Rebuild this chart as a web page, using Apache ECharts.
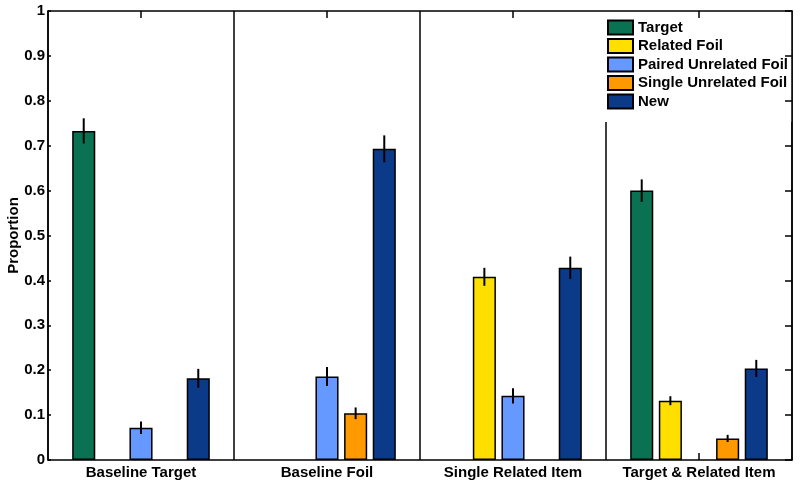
<!DOCTYPE html>
<html>
<head>
<meta charset="utf-8">
<script src="https://cdn.jsdelivr.net/npm/echarts@6/dist/echarts.min.js"></script>
<style>
html,body{margin:0;padding:0;background:#fff;}
#chart{width:800px;height:487px;}
</style>
</head>
<body>
<div id="chart"></div>
<script>
const categories = ['Baseline Target', 'Baseline Foil', 'Single Related Item', 'Target & Related Item'];
const seriesNames = ['Target', 'Related Foil', 'Paired Unrelated Foil', 'Single Unrelated Foil', 'New'];
const target = [0.733, null, null, 0.600];
const targetErr = [0.028, null, null, 0.025];
const relatedFoil = [null, null, 0.408, 0.132];
const relatedFoilErr = [null, null, 0.020, 0.010];
const pairedUnrelated = [0.072, 0.186, 0.143, null];
const pairedUnrelatedErr = [0.014, 0.021, 0.017, null];
const singleUnrelated = [null, 0.104, null, 0.048];
const singleUnrelatedErr = [null, 0.013, null, 0.008];
const newItems = [0.182, 0.693, 0.428, 0.204];
const newErr = [0.021, 0.030, 0.025, 0.019];
const yTicks = [0, 0.1, 0.2, 0.3, 0.4, 0.5, 0.6, 0.7, 0.8, 0.9, 1];

const colors = ['#0a7152', '#ffdf00', '#6699ff', '#ff9900', '#0a3a88'];
const values = [target, relatedFoil, pairedUnrelated, singleUnrelated, newItems];
const errors = [targetErr, relatedFoilErr, pairedUnrelatedErr, singleUnrelatedErr, newErr];

const CAT_GAP = 0.26, BAR_GAP = 0.24, N = seriesNames.length;
const FONT = "'Liberation Sans', Arial, Helvetica, sans-serif";

const chart = echarts.init(document.getElementById('chart'), null, {renderer: 'canvas'});

const barSeries = seriesNames.map((name, i) => ({
  name: name,
  type: 'bar',
  xAxisIndex: 0,
  yAxisIndex: 0,
  barGap: (BAR_GAP * 100) + '%',
  barCategoryGap: (CAT_GAP * 100) + '%',
  itemStyle: {color: colors[i], borderColor: '#000', borderWidth: 1.5},
  emphasis: {disabled: true},
  z: 2,
  data: values[i].map(v => v === null ? '-' : v)
}));

const errSeries = seriesNames.map((name, i) => ({
  name: name + ' err',
  type: 'custom',
  xAxisIndex: 0,
  yAxisIndex: 0,
  z: 5,
  silent: true,
  data: values[i].map((v, k) => v === null ? null : [k, v - errors[i][k], v + errors[i][k]]).filter(d => d),
  renderItem: function (params, api) {
    const band = api.size([1, 0])[0];
    const w = band * (1 - CAT_GAP) / (N + (N - 1) * BAR_GAP);
    const total = N * w + (N - 1) * w * BAR_GAP;
    const off = -total / 2 + w / 2 + i * w * (1 + BAR_GAP);
    const lo = api.coord([api.value(0), api.value(1)]);
    const hi = api.coord([api.value(0), api.value(2)]);
    const x = lo[0] + off;
    return {
      type: 'line',
      shape: {x1: x, y1: lo[1], x2: x, y2: hi[1]},
      style: {stroke: '#000', lineWidth: 2}
    };
  }
}));

const option = {
  animation: false,
  backgroundColor: '#fff',
  textStyle: {fontFamily: FONT},
  grid: {left: 48, right: 8, top: 11, bottom: 27, containLabel: false, outerBoundsMode: 'none'},
  legend: {
    data: seriesNames,
    left: 603,
    top: 11,
    orient: 'vertical',
    backgroundColor: '#fff',
    padding: [8, 4, 12, 4],
    itemWidth: 25,
    itemHeight: 14,
    itemGap: 1.5,
    selectedMode: false,
    z: 4,
    textStyle: {fontFamily: FONT, fontWeight: 'bold', fontSize: 15, color: '#000', lineHeight: 17},
    icon: 'rect'
  },
  xAxis: [
    {
      type: 'category',
      data: categories,
      position: 'bottom',
      z: 0,
      axisLine: {show: true, lineStyle: {color: '#000', width: 1.5}},
      axisTick: {show: true, inside: true, alignWithLabel: true, interval: 0, length: 7, lineStyle: {color: '#000', width: 1.5}},
      axisLabel: {show: true, interval: 0, margin: 5, color: '#000', fontFamily: FONT, fontWeight: 'bold', fontSize: 15},
      splitLine: {show: true, interval: 0, lineStyle: {color: '#000', width: 1.5}}
    },
    {
      type: 'category',
      data: categories,
      position: 'top',
      gridIndex: 0,
      zlevel: 1,
      z: 10,
      show: true,
      axisLine: {show: true, onZero: false, lineStyle: {color: '#000', width: 1.5}},
      axisTick: {show: true, inside: true, alignWithLabel: true, interval: 0, length: 7, lineStyle: {color: '#000', width: 1.5}},
      axisLabel: {show: true, interval: 0, formatter: function () { return ''; }},
      splitLine: {show: false}
    }
  ],
  yAxis: [
    {
      type: 'value',
      min: 0,
      max: 1,
      interval: 0.1,
      position: 'left',
      name: 'Proportion',
      nameLocation: 'middle',
      nameGap: 27,
      nameMoveOverlap: false,
      nameTextStyle: {fontFamily: FONT, fontWeight: 'bold', fontSize: 15, color: '#000'},
      axisLine: {show: true, lineStyle: {color: '#000', width: 1.5}},
      axisTick: {show: true, inside: true, length: 3, lineStyle: {color: '#000', width: 1.5}},
      axisLabel: {
        show: true, margin: 3, color: '#000', fontFamily: FONT, fontWeight: 'bold', fontSize: 15,
        formatter: function (v) {
          const t = yTicks.find(x => Math.abs(x - v) < 1e-9);
          return t === undefined ? '' : String(t);
        }
      },
      splitLine: {show: false}
    },
    {
      type: 'value',
      min: 0,
      max: 1,
      interval: 0.1,
      position: 'right',
      zlevel: 1,
      z: 10,
      axisLine: {show: true, lineStyle: {color: '#000', width: 1.5}},
      axisTick: {show: true, inside: true, length: 7, lineStyle: {color: '#000', width: 1.5}},
      axisLabel: {show: false},
      splitLine: {show: false}
    }
  ],
  series: barSeries.concat(errSeries)
};

chart.setOption(option);
</script>
</body>
</html>
